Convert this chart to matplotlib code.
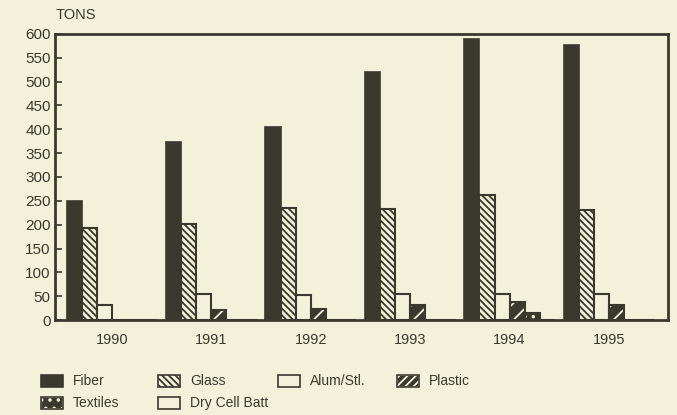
import numpy as np
import matplotlib
matplotlib.use("Agg")
import matplotlib.pyplot as plt
from matplotlib.patches import Rectangle

# tons per year
years = ["1990", "1991", "1992", "1993", "1994", "1995"]
fiber = [250, 374, 405, 521, 589, 577]
glass = [193, 201, 235, 233, 262, 231]
alum_stl = [31, 55, 52, 55, 55, 55]
plastic = [0, 21, 23, 31, 38, 31]
textiles = [0, 0, 0, 0, 15, 0]
dry_cell = [0, 0, 0, 0, 0, 0]

bg = "#f4f1db"
ink = "#3a392e"

plt.rcParams["font.family"] = ["Liberation Sans", "DejaVu Sans"]
plt.rcParams["hatch.linewidth"] = 1.3

fig = plt.figure(figsize=(6.77, 4.15), dpi=100, facecolor=bg)
ax = fig.add_axes([0.0812, 0.2289, 0.9055, 0.6892], facecolor=bg)

x = np.arange(len(years))
w = 0.152
offs = (np.arange(6) - 2.5) * w
glass_hatch = "\\" * 5

# Fiber - solid
ax.bar(x + offs[0], fiber, w, color=ink, edgecolor=ink, linewidth=1.2)
# Glass - white with diagonal hatch
ax.bar(x + offs[1], glass, w, color=bg, edgecolor=ink, hatch=glass_hatch, linewidth=1.5)
# Alum/Stl - open
ax.bar(x + offs[2], alum_stl, w, color=bg, edgecolor=ink, linewidth=1.5)
# Plastic - dark with light hatch
ax.bar(x + offs[3], plastic, w, color=ink, edgecolor=bg, hatch="//", linewidth=0)
ax.bar(x + offs[3], plastic, w, fill=False, edgecolor=ink, linewidth=1.5)
# Textiles
ax.bar(x + offs[4], textiles, w, color=ink, edgecolor=bg, hatch="..", linewidth=0)
ax.bar(x + offs[4], textiles, w, fill=False, edgecolor=ink, linewidth=1.5)
# Dry Cell Batt - open
ax.bar(x + offs[5], dry_cell, w, color=bg, edgecolor=ink, linewidth=1.5)

ax.set_xlim(-0.573, 5.593)
ax.set_ylim(0, 600)
ax.set_yticks(np.arange(0, 601, 50))
ax.set_xticks(x)
ax.set_xticklabels(years)
ax.tick_params(axis="y", direction="in", length=5, width=1.2, color=ink,
               labelcolor=ink, labelsize=11, pad=3)
ax.tick_params(axis="x", length=0, labelcolor=ink, labelsize=10.5, pad=9)
for s in ax.spines.values():
    s.set_linewidth(2)
    s.set_color(ink)

fig.text(0.082, 0.965, "TONS", color=ink, fontsize=10.5, ha="left", va="center")

# legend laid out in two rows like the original
entries = [
    ("Fiber", dict(facecolor=ink, edgecolor=ink)),
    ("Glass", dict(facecolor=bg, edgecolor=ink, hatch=glass_hatch)),
    ("Alum/Stl.", dict(facecolor=bg, edgecolor=ink)),
    ("Plastic", dict(facecolor=ink, edgecolor=bg, hatch="////")),
    ("Textiles", dict(facecolor=ink, edgecolor=bg, hatch="..")),
    ("Dry Cell Batt", dict(facecolor=bg, edgecolor=ink)),
]
col_x = [41, 158, 278, 397]
row_y = [381, 403]
W, H = 677.0, 415.0
for i, (label, style) in enumerate(entries):
    r, c = divmod(i, 4)
    px, py = col_x[c], row_y[r]
    rect = Rectangle((px / W, 1 - (py + 6) / H), 22 / W, 12 / H,
                     transform=fig.transFigure, linewidth=1.2, **style)
    fig.add_artist(rect)
    if style["edgecolor"] == bg:
        fig.add_artist(Rectangle((px / W, 1 - (py + 6) / H), 22 / W, 12 / H,
                                 transform=fig.transFigure, fill=False,
                                 edgecolor=ink, linewidth=1.2))
    fig.text((px + 32) / W, 1 - py / H, label, color=ink, fontsize=10,
             ha="left", va="center")

fig.savefig("out.png", dpi=100, facecolor=bg)
